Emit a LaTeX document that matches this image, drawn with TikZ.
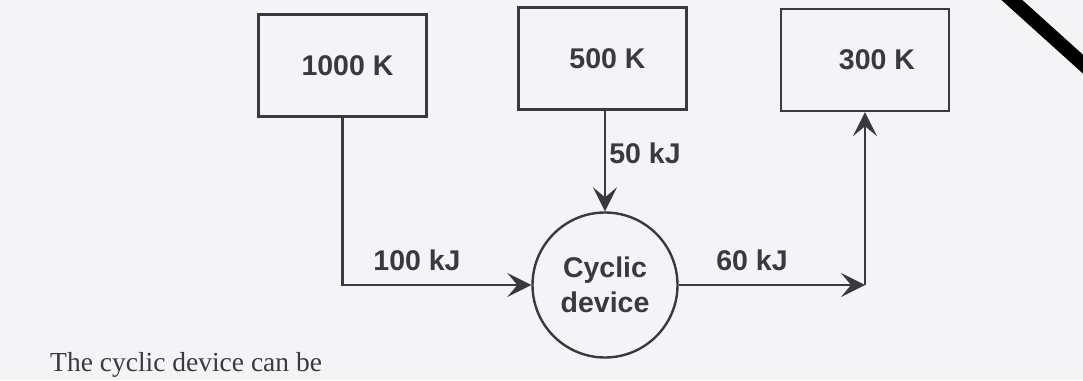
\documentclass[tikz,border=0pt]{standalone}
\usepackage{fontspec}
\setmainfont{Liberation Serif}
\newfontfamily\diagfont{Liberation Sans}
\usetikzlibrary{arrows.meta,positioning,calc}
\definecolor{paper}{HTML}{F4F4F6}
\definecolor{ink}{HTML}{3A3A3C}

\begin{document}
\begin{tikzpicture}[x=1pt, y=-1pt,
      res/.style={draw=ink, line width=2.4pt, minimum width=168pt, minimum height=102pt,
                  inner sep=0pt, font=\diagfont\bfseries\fontsize{28.5}{32}\selectfont, text=ink},
      dev/.style={res, circle, minimum width=145pt, minimum height=145pt, align=center,
                  font=\diagfont\bfseries\fontsize{28.5}{35}\selectfont},
      qlab/.style={font=\diagfont\bfseries\fontsize{28.5}{32}\selectfont, text=ink, inner sep=0pt},
      arr/.style={-{Stealth[length=24pt, width=24pt, inset=10pt]}, ink, line width=2.4pt}]
    % page
    \fill[paper] (0,0) rectangle (1083,380);
    \useasboundingbox (0,0) rectangle (1083,380);
    \clip (0,0) rectangle (1083,380);
    % reservoirs and device
    \node[res] (hot) at (342.5,65.5) {\hspace{10pt}1000 K};
    \node[res] (mid) at (602.5,58.5) {\hspace{10pt}500 K};
    \node[res] (cold) at (865,60) {\hspace{24pt}300 K};
    \node[dev] (cyc) at (605,285) {Cyclic\\device};
    \coordinate (corner) at (cold.south |- cyc.east);
    % heat flows
    \draw[arr] (hot.south) |- (cyc.west);
    \draw[arr] (cyc.north |- mid.south) -- (cyc.north);
    \draw[arr] (cyc.east) -- (corner);
    \draw[arr] (corner) -- (cold.south);
    \node[qlab] (q1) at (417,260) {100 kJ};
    \node[qlab] (q2) at (645,153) {50 kJ};
    \node[qlab] (q3) at (752,260) {60 kJ};
    % text below
    \node[anchor=base west, inner sep=0pt, text=ink, font=\fontsize{27.5}{30}\selectfont]
      (tail) at (50,371) {The cyclic device can be};
    % scan edge
    \draw[black, line width=14pt] (1003,-8) -- (1095,75);
\end{tikzpicture}
\end{document}
